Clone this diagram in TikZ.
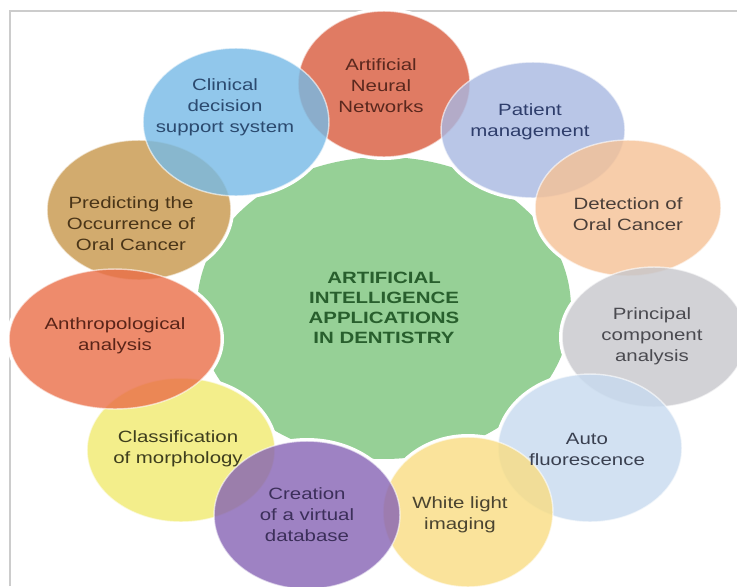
\documentclass[tikz,border=0pt]{standalone}
\usepackage{fontspec}
\setmainfont{Liberation Sans}[FakeStretch=1.25]
\usetikzlibrary{shapes.geometric}

% fills (used at 80% opacity)
\definecolor{annfill}{RGB}{217,90,60}
\definecolor{cdsfill}{RGB}{118,186,230}
\definecolor{patfill}{RGB}{168,184,226}
\definecolor{detfill}{RGB}{246,193,149}
\definecolor{pcafill}{RGB}{199,199,204}
\definecolor{autofill}{RGB}{199,218,239}
\definecolor{wlifill}{RGB}{249,221,130}
\definecolor{crefill}{RGB}{134,99,180}
\definecolor{clsfill}{RGB}{241,234,111}
\definecolor{antfill}{RGB}{234,110,72}
\definecolor{predfill}{RGB}{199,151,74}
\definecolor{hubgreen}{RGB}{150,208,150}
% text colours
\definecolor{hubtext}{RGB}{40,95,45}
\definecolor{anntext}{RGB}{90,40,30}
\definecolor{cdstext}{RGB}{43,74,111}
\definecolor{pattext}{RGB}{46,61,107}
\definecolor{dettext}{RGB}{74,62,56}
\definecolor{pcatext}{RGB}{74,74,80}
\definecolor{autotext}{RGB}{58,64,80}
\definecolor{wlitext}{RGB}{74,68,48}
\definecolor{cretext}{RGB}{60,47,90}
\definecolor{clstext}{RGB}{62,62,30}
\definecolor{anttext}{RGB}{90,36,24}
\definecolor{predtext}{RGB}{74,53,24}

% name/x/y/rx/ry/fill, in drawing order
\def\bubblelist{ann/384/84/86/73/annfill, predict/139/210/92/70/predfill,
  clinical/236/122/93/74/cdsfill, patient/533/130/92/68/patfill,
  detect/628/208/93/68/detfill, pca/654/337/92/70/pcafill,
  auto/590/448/92/74/autofill, white/468/512/85/75/wlifill,
  classify/181/450/94/72/clsfill, anthro/115/339/106/70/antfill,
  creation/307/515/93/74/crefill}

\begin{document}
\begin{tikzpicture}[
    x=0.02cm, y=-0.02cm,
    bubble/.style={ellipse, inner sep=0pt, fill opacity=0.8,
        draw=white, draw opacity=0.6, line width=0.8pt},
    hub/.style={ellipse, fill=hubgreen, inner sep=0pt,
        minimum width=7.48cm, minimum height=6.04cm,
        align=center, text=hubtext,
        font=\fontsize{9.3}{11.3}\selectfont\bfseries},
    tag/.style={align=center, inner sep=0pt,
        font=\fontsize{9.3}{11.9}\selectfont},
    frameline/.style={draw=gray!40, line width=1pt}
]
\clip (0,0) rectangle (737,586);
\fill[white] (0,0) rectangle (737,586);
\draw[frameline] (10,586) -- (10,11) -- (737,11);

% green centre, then cut out round every bubble
\node[hub] (hub) at (384,308)
    {ARTIFICIAL\\INTELLIGENCE\\APPLICATIONS\\IN DENTISTRY};
\foreach \n/\x/\y/\rx/\ry/\col in \bubblelist
    \fill[white] (\x,\y) ellipse [x radius=\rx+3, y radius=\ry+3];

\foreach \n/\x/\y/\rx/\ry/\col in \bubblelist
    \node[bubble, fill=\col, minimum width=\rx*0.04cm,
          minimum height=\ry*0.04cm] (\n) at (\x,\y) {};

\node[tag, text=anntext]  (ann-t)      at (381,86)  {Artificial\\Neural\\Networks};
\node[tag, text=cdstext]  (clinical-t) at (225,107) {Clinical\\decision\\support system};
\node[tag, text=pattext]  (patient-t)  at (530,122) {Patient\\management};
\node[tag, text=dettext]  (detect-t)   at (628,214) {Detection of\\Oral Cancer};
\node[tag, text=pcatext]  (pca-t)      at (652,336) {Principal\\component\\analysis};
\node[tag, text=autotext] (auto-t)     at (587,449) {Auto\\fluorescence};
\node[tag, text=wlitext]  (white-t)    at (460,515) {White light\\imaging};
\node[tag, text=cretext]  (creation-t) at (307,515) {Creation\\of a virtual\\database};
\node[tag, text=clstext]  (classify-t) at (178,449) {Classification\\of morphology};
\node[tag, text=anttext]  (anthro-t)   at (115,336) {Anthropological\\analysis};
\node[tag, text=predtext] (predict-t)  at (131,224) {Predicting the\\Occurrence of\\Oral Cancer};
\end{tikzpicture}
\end{document}
